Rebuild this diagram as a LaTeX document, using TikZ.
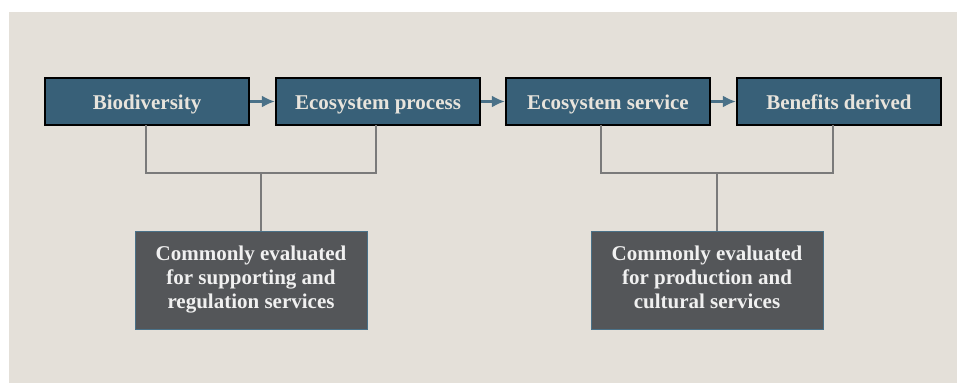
\documentclass[tikz,border=0pt]{standalone}
\usepackage{fontspec}
\setmainfont{Liberation Serif}
\usetikzlibrary{arrows.meta, math}
\definecolor{panelbg}{RGB}{228, 224, 217}
\definecolor{stepblue}{RGB}{56, 96, 120}
\definecolor{notegray}{RGB}{84, 86, 89}
\definecolor{textlight}{RGB}{232, 228, 220}
\definecolor{arrowblue}{RGB}{74, 113, 136}
\definecolor{linegray}{RGB}{122, 122, 122}

\tikzset{
  stepbox/.style={draw=black, line width=1.2pt, fill=stepblue, text=textlight,
    minimum width=204pt, minimum height=47pt, inner sep=0pt,
    text height=19pt, text depth=4pt,
    font=\fontsize{21}{24}\selectfont\bfseries},
  notebox/.style={draw=arrowblue, line width=0.8pt, fill=notegray, text=white!94!black,
    minimum width=232pt, minimum height=98pt, inner sep=0pt, align=center,
    font=\fontsize{21}{24}\selectfont\bfseries},
  flow/.style={-{Latex[length=13pt,width=12pt]}, line width=2.6pt, color=arrowblue,
    shorten <=0.5pt, shorten >=0.5pt},
  bracket/.style={line width=1.4pt, color=linegray}
}

\begin{document}
\begin{tikzpicture}[x=1pt,y=-1pt]
\tikzmath{
\ytop=101.5;
\ybr=173;
\ylow=280;
}
\useasboundingbox (0,0) rectangle (957,383);
\fill[panelbg] (9,12) rectangle (957,383);

%%%%%%%%%% top row
\node[stepbox] (bio)  at (147,\ytop) {Biodiversity};
\node[stepbox] (proc) at (378,\ytop) {Ecosystem process};
\node[stepbox] (serv) at (608,\ytop) {Ecosystem service};
\node[stepbox] (bene) at (839,\ytop) {Benefits derived};

\draw[flow] (bio) -- (proc);
\draw[flow] (proc) -- (serv);
\draw[flow] (serv) -- (bene);

%%%%%%%%%% bottom notes
\node[notebox] (supp) at (251,\ylow) {\strut Commonly evaluated\\for supporting and\\regulation services\strut};
\node[notebox] (prod) at (707,\ylow) {\strut Commonly evaluated\\for production and\\cultural services\strut};

\coordinate (leftmid)  at (261,\ybr);
\coordinate (rightmid) at (717,\ybr);

\draw[bracket] (146,125) |- (leftmid) -| (376,125);
\draw[bracket] (leftmid) -- (leftmid |- supp.north);
\draw[bracket] (601,125) |- (rightmid) -| (833,125);
\draw[bracket] (rightmid) -- (rightmid |- prod.north);
\end{tikzpicture}
\end{document}
